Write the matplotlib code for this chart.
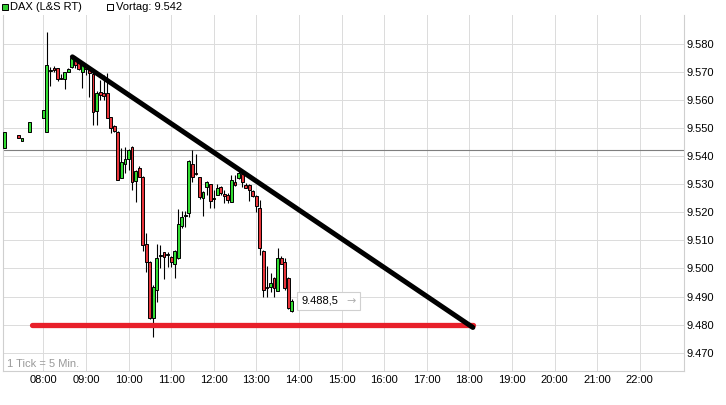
import matplotlib
matplotlib.use("Agg")
import matplotlib.pyplot as plt
from matplotlib.patches import Rectangle
from matplotlib.ticker import FuncFormatter
from matplotlib.offsetbox import TextArea, HPacker, AnnotationBbox

plt.rcParams['font.family'] = ['Liberation Sans', 'DejaVu Sans']

# 5-minute candles, DAX (L&S RT)
candle_times = [
    "07:05", "07:25", "07:30", "07:40",
    "08:00", "08:05", "08:10", "08:15", "08:20", "08:25", "08:30", "08:35",
    "08:40", "08:45", "08:50", "08:55", "09:00", "09:05", "09:10", "09:15",
    "09:20", "09:25", "09:30", "09:35", "09:40", "09:45", "09:50", "09:55",
    "10:00", "10:05", "10:10", "10:15", "10:20", "10:25", "10:30", "10:35",
    "10:40", "10:45", "10:50", "10:55", "11:00", "11:05", "11:10", "11:15",
    "11:20", "11:25", "11:30", "11:35", "11:40", "11:45", "11:50", "11:55",
    "12:00", "12:05", "12:10", "12:15", "12:20", "12:25", "12:30", "12:35",
    "12:40", "12:45", "12:50", "12:55", "13:00", "13:05", "13:10", "13:15",
    "13:20", "13:25", "13:30", "13:35", "13:40", "13:45", "13:50",
]
opens = [
    9542.8, 9547.4, 9545.5, 9548.5,
    9553.4, 9548.5, 9570.3, 9571.2, 9571.2, 9567.9, 9567.3, 9570.0,
    9571.8, 9575.0, 9573.0, 9569.8, 9572.0, 9570.5, 9569.1, 9556.0,
    9562.7, 9562.3, 9562.3, 9553.8, 9550.7, 9548.7, 9532.1, 9537.2,
    9538.8, 9543.1, 9531.2, 9535.9, 9532.7, 9508.7, 9502.2, 9482.2,
    9492.3, 9504.5, 9505.7, 9504.8, 9504.0, 9501.5, 9503.8, 9515.1,
    9518.7, 9519.6, 9537.2, 9533.9, 9532.4, 9525.0, 9528.9, 9529.9,
    9524.7, 9526.1, 9528.9, 9526.5, 9526.1, 9523.8, 9530.9, 9532.1,
    9533.5, 9529.8, 9529.7, 9527.7, 9525.8, 9521.4, 9506.3, 9493.5,
    9493.5, 9496.5, 9492.1, 9503.8, 9502.2, 9496.5, 9484.8,
]
highs = [
    9548.5, 9547.4, 9546.3, 9552.2,
    9556.4, 9584.3, 9571.8, 9572.2, 9571.5, 9569.2, 9570.0, 9571.3,
    9575.3, 9575.5, 9573.5, 9573.0, 9572.5, 9571.0, 9569.5, 9563.0,
    9567.1, 9568.9, 9569.5, 9554.0, 9551.0, 9549.0, 9542.8, 9543.1,
    9542.5, 9543.6, 9535.0, 9536.5, 9533.0, 9512.5, 9502.5, 9494.0,
    9508.7, 9508.3, 9506.0, 9505.7, 9504.5, 9506.5, 9521.0, 9520.5,
    9520.6, 9538.5, 9542.2, 9540.7, 9532.7, 9527.5, 9531.0, 9530.0,
    9527.9, 9529.9, 9529.5, 9527.9, 9526.8, 9533.3, 9533.3, 9534.8,
    9534.0, 9530.5, 9530.0, 9528.0, 9526.0, 9524.4, 9506.5, 9500.9,
    9498.3, 9497.0, 9507.2, 9504.5, 9503.8, 9496.8, 9489.0,
]
lows = [
    9542.8, 9546.3, 9545.5, 9548.5,
    9553.4, 9548.5, 9565.0, 9570.0, 9566.7, 9567.4, 9563.8, 9570.0,
    9571.5, 9571.5, 9570.5, 9564.3, 9569.0, 9561.1, 9551.1, 9551.1,
    9560.0, 9560.0, 9553.4, 9548.1, 9548.5, 9531.5, 9532.1, 9533.9,
    9535.0, 9527.9, 9523.8, 9532.5, 9506.3, 9498.8, 9482.0, 9475.5,
    9488.2, 9500.0, 9496.1, 9500.5, 9500.5, 9496.5, 9503.5, 9514.5,
    9514.8, 9518.2, 9530.9, 9533.3, 9524.6, 9518.7, 9526.1, 9521.4,
    9521.4, 9526.0, 9526.1, 9523.2, 9523.2, 9523.8, 9529.5, 9532.0,
    9529.1, 9528.5, 9524.0, 9525.5, 9520.2, 9504.8, 9489.7, 9489.9,
    9491.7, 9489.9, 9492.0, 9501.5, 9492.5, 9485.5, 9484.5,
]
closes = [
    9548.5, 9546.3, 9546.3, 9552.2,
    9556.4, 9572.4, 9570.4, 9571.1, 9567.4, 9567.8, 9569.8, 9571.0,
    9574.8, 9572.5, 9571.0, 9572.4, 9571.0, 9569.5, 9555.8, 9562.3,
    9561.9, 9561.4, 9553.4, 9549.9, 9548.9, 9531.5, 9538.0, 9538.8,
    9542.2, 9530.9, 9534.8, 9532.7, 9508.3, 9502.4, 9482.2, 9493.5,
    9503.6, 9504.6, 9504.0, 9504.9, 9502.2, 9506.2, 9515.8, 9518.2,
    9518.8, 9538.3, 9532.7, 9533.8, 9525.5, 9527.1, 9530.7, 9524.0,
    9524.8, 9528.5, 9527.0, 9525.8, 9524.3, 9531.5, 9529.7, 9533.9,
    9530.6, 9528.8, 9528.0, 9525.8, 9522.2, 9507.2, 9492.3, 9493.4,
    9494.9, 9492.9, 9503.8, 9501.6, 9492.9, 9485.8, 9488.5,
]

vortag = 9542
last_label = "9.488,5"

# hand-drawn lines
trend_times = ["08:41", "18:05"]
trend_values = [9575.3, 9479.0]
support_times = ["07:44", "18:05"]
support_values = [9479.8, 9479.8]

hour_ticks = list(range(8, 23))
price_ticks = list(range(9470, 9581, 10))


def to_hours(s):
    h, m = s.split(":")
    return int(h) + int(m) / 60.0


W, H = 726, 405
fig = plt.figure(figsize=(W / 100, H / 100), dpi=100)
ax = fig.add_axes([3 / W, 34 / H, 681 / W, 356 / H])
ax.set_xlim(7.054, 23.039)
ax.set_ylim(9463.5, 9590.2)

ax.set_xticks(hour_ticks)
ax.set_xticklabels([f"{h:02d}:00" for h in hour_ticks])
ax.set_yticks(price_ticks)
ax.yaxis.set_major_formatter(FuncFormatter(lambda v, p: f"{v / 1000:.3f}"))
ax.yaxis.tick_right()
ax.tick_params(axis="both", length=0, labelsize=8, colors="black")
ax.tick_params(axis="y", pad=2)
ax.tick_params(axis="x", pad=3)
ax.grid(True, color="#dcdcdc", linewidth=0.72)
ax.set_axisbelow(True)
for side in ["left", "bottom", "right"]:
    ax.spines[side].set_color("#cfcfcf")
    ax.spines[side].set_linewidth(0.8)
ax.spines["top"].set_visible(False)

ax.axhline(vortag, color="#7f7f7f", linewidth=0.8, zorder=2)

t = [to_hours(s) for s in candle_times]
width = 4.0 / 60
ax.vlines(t, lows, highs, color="black", linewidth=0.8, zorder=3)
for ti, o, c in zip(t, opens, closes):
    col = "#33dd33" if c >= o else "#e8343a"
    h = c - o
    if abs(h) < 0.4:
        h = 0.4 if h >= 0 else -0.4
    ax.bar(ti, h, bottom=o, width=width, color=col, edgecolor="black",
           linewidth=0.7, zorder=4)

ax.plot([to_hours(s) for s in support_times], support_values, color="#e8202a",
        linewidth=3.8, solid_capstyle="round", zorder=5)
ax.plot([to_hours(s) for s in trend_times], trend_values, color="black",
        linewidth=3.6, solid_capstyle="round", zorder=6)

# last price box
price_txt = TextArea(last_label, textprops=dict(fontsize=8, color="black"))
arrow_txt = TextArea("\u2192", textprops=dict(fontsize=8, color="#b0b0b0",
                                              family="DejaVu Sans"))
pack = HPacker(children=[price_txt, arrow_txt], align="center", pad=0, sep=6)
box = AnnotationBbox(pack, (t[-1] + 0.02, closes[-1]), box_alignment=(0, 0.5),
                     xybox=(6, 0), boxcoords="offset points", frameon=True,
                     pad=0.3, zorder=7,
                     bboxprops=dict(boxstyle="square,pad=0.3", fc="white",
                                    ec="#d0d0d0", lw=0.8))
ax.add_artist(box)

ax.text(4 / 681, 2 / 356, "1 Tick = 5 Min.", transform=ax.transAxes,
        fontsize=8, color="#999999", ha="left", va="bottom")

# header legend
fig.add_artist(Rectangle((2 / W, (H - 10) / H), 6 / W, 6 / H,
                         transform=fig.transFigure, fc="#33cc33", ec="black", lw=0.7))
fig.text(10 / W, (H - 7) / H, "DAX (L&S RT)", fontsize=8, va="center", ha="left")
fig.add_artist(Rectangle((107 / W, (H - 10) / H), 6 / W, 6 / H,
                         transform=fig.transFigure, fc="white", ec="black", lw=0.7))
fig.text(116 / W, (H - 7) / H, f"Vortag: {vortag / 1000:.3f}", fontsize=8,
         va="center", ha="left")

fig.savefig("out.png", dpi=100)
